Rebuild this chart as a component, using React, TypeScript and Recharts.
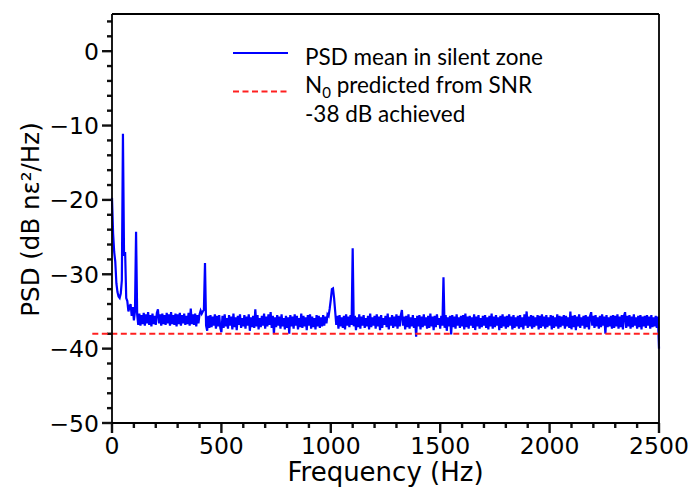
import { LineChart, Line, XAxis, YAxis, ReferenceLine } from "recharts"

const W = 689
const H = 487

// PSD mean in silent zone, one value every FREQ_STEP Hz from 0 to 2500 Hz (dB nε²/Hz)
const FREQ_STEP = 5
const PSD_MEAN = [
  -19.7, -24.5, -27.0, -28.3, -31.2, -32.4, -33.0, -33.2, -32.6, -30.8,
  -11.1, -27.5, -27.0, -33.2, -33.6, -35.0, -34.4, -34.0, -35.6, -34.4,
  -36.2, -35.0, -24.3, -35.4, -36.8, -35.3, -36.9, -35.5, -36.7, -35.2,
  -36.9, -35.4, -36.6, -35.1, -36.8, -35.5, -37.0, -35.3, -36.7, -35.6,
  -36.8, -35.2, -34.7, -36.6, -35.4, -36.9, -35.3, -36.7, -35.5, -36.8,
  -35.2, -36.6, -35.4, -36.9, -35.1, -36.7, -35.5, -36.8, -35.3, -37.0,
  -35.4, -36.7, -35.2, -36.9, -35.5, -36.6, -35.3, -36.8, -35.6, -36.7,
  -35.2, -36.9, -34.6, -36.7, -35.4, -36.8, -35.3, -37.0, -35.5, -36.6,
  -35.4, -34.9, -35.3, -35.0, -34.8, -28.5, -36.9, -37.6, -35.6, -37.2,
  -35.5, -37.1, -35.7, -36.9, -35.4, -37.3, -35.6, -37.0, -35.5, -37.2,
  -37.8, -35.6, -37.2, -35.4, -37.0, -35.9, -37.3, -35.5, -36.9, -35.7,
  -37.4, -35.3, -37.1, -35.8, -37.5, -35.6, -36.8, -35.4, -37.2, -35.9,
  -37.0, -35.5, -37.3, -35.7, -36.9, -35.4, -37.6, -35.8, -37.1, -35.6,
  -37.2, -34.7, -37.0, -35.5, -37.4, -35.9, -37.1, -35.6, -36.9, -35.3,
  -37.3, -35.7, -37.0, -35.4, -36.8, -35.1, -37.2, -35.6, -38.0, -35.8,
  -37.1, -35.5, -36.9, -35.7, -37.3, -35.4, -37.0, -35.9, -37.4, -35.6,
  -37.2, -35.8, -38.0, -35.5, -37.0, -35.7, -37.3, -35.4, -36.9, -35.6,
  -37.4, -35.9, -37.1, -35.3, -37.2, -35.6, -37.0, -35.8, -37.5, -35.5,
  -36.9, -35.4, -37.3, -35.7, -37.1, -35.9, -37.4, -35.5, -37.0, -35.6,
  -37.2, -35.8, -37.0, -35.5, -36.9, -35.7, -36.6, -35.4, -35.6, -34.6,
  -33.4, -32.0, -31.9, -33.2, -35.0, -36.8, -35.6, -37.3, -35.5, -37.0,
  -35.8, -37.2, -35.6, -37.4, -35.4, -36.9, -35.7, -37.1, -35.5, -36.8,
  -26.5, -37.0, -35.6, -37.5, -35.8, -37.1, -35.4, -37.3, -35.7, -36.9,
  -35.5, -37.2, -35.9, -37.0, -35.6, -37.4, -35.3, -37.1, -35.8, -36.9,
  -35.6, -37.3, -35.4, -37.0, -35.7, -37.5, -35.5, -37.2, -35.9, -36.8,
  -35.6, -37.1, -35.3, -37.4, -35.8, -36.9, -35.5, -37.2, -35.7, -37.0,
  -35.4, -37.3, -35.6, -37.0, -35.5, -34.8, -36.9, -35.7, -37.4, -35.6,
  -37.1, -35.4, -37.3, -35.8, -37.0, -35.5, -37.2, -35.9, -38.4, -35.6,
  -37.0, -35.5, -37.4, -35.7, -37.1, -35.4, -36.9, -35.8, -37.3, -35.6,
  -37.2, -35.3, -37.0, -35.7, -37.5, -35.6, -37.1, -35.4, -36.8, -35.9,
  -37.3, -35.6, -36.9, -30.4, -37.2, -35.5, -37.6, -35.8, -37.0, -35.6,
  -38.1, -35.5, -37.1, -35.7, -37.3, -35.4, -36.9, -35.8, -37.2, -35.6,
  -37.0, -35.5, -37.4, -35.3, -37.1, -35.7, -37.3, -35.6, -36.9, -35.8,
  -37.2, -35.4, -37.5, -35.7, -37.0, -35.5, -37.3, -35.9, -37.1, -35.6,
  -36.9, -35.5, -37.2, -35.8, -37.4, -35.6, -37.0, -35.3, -37.3, -35.7,
  -37.1, -35.5, -36.9, -35.8, -37.5, -35.6, -37.2, -35.4, -37.0, -35.7,
  -37.3, -35.6, -37.1, -35.4, -36.9, -35.7, -37.4, -35.5, -37.2, -35.8,
  -37.0, -35.6, -37.3, -35.5, -37.1, -35.8, -37.4, -35.4, -36.9, -35.0,
  -37.2, -35.7, -37.0, -35.5, -37.3, -35.6, -37.1, -35.8, -36.9, -35.5,
  -37.4, -35.6, -37.2, -35.4, -37.0, -35.7, -37.3, -35.5, -37.1, -35.8,
  -36.9, -35.5, -37.4, -35.6, -37.2, -35.8, -37.0, -35.4, -37.3, -35.6,
  -37.1, -35.7, -36.9, -35.5, -37.3, -35.6, -37.0, -35.8, -37.2, -35.0,
  -37.4, -35.6, -37.1, -35.5, -37.5, -35.7, -37.0, -35.4, -37.2, -35.8,
  -36.9, -35.6, -37.3, -35.5, -37.1, -35.7, -37.4, -35.6, -35.1, -36.9,
  -35.6, -37.2, -35.5, -37.0, -35.8, -37.3, -35.6, -37.1, -35.4, -36.9,
  -35.7, -38.0, -35.5, -37.1, -35.8, -37.0, -35.6, -37.3, -35.5, -37.2,
  -35.6, -37.0, -35.4, -37.3, -35.7, -37.1, -35.5, -37.4, -35.6, -35.1,
  -37.2, -35.6, -37.0, -35.5, -37.3, -35.7, -37.1, -35.4, -36.9, -35.8,
  -37.3, -35.6, -37.1, -35.5, -37.4, -35.7, -37.0, -35.6, -37.2, -35.5,
  -36.9, -35.7, -37.3, -35.5, -37.1, -35.8, -37.0, -35.6, -37.2, -35.7,
  -40.0,
]

const X_DOMAIN = [0, 2500]
const Y_DOMAIN = [-50, 5]
const X_MAJOR_TICKS = [0, 500, 1000, 1500, 2000, 2500]
const X_MINOR_TICKS = [
  100, 200, 300, 400, 600, 700, 800, 900, 1100, 1200, 1300, 1400,
  1600, 1700, 1800, 1900, 2100, 2200, 2300, 2400,
]
const Y_MAJOR_TICKS = [-50, -40, -30, -20, -10, 0]
const Y_MINOR_TICKS = [
  -48, -46, -44, -42, -38, -36, -34, -32, -28, -26, -24, -22,
  -18, -16, -14, -12, -8, -6, -4, -2, 2, 4,
]

const N0_DB = -38
const N0_START_HZ = -90 // dashed line starts a bit left of the axis

const data = PSD_MEAN.map((psd, i) => ({ freq: i * FREQ_STEP, psd }))

// plot box in pixels (chart margins + axis sizes below)
const PLOT_LEFT = 112
const PLOT_TOP = 14
const PLOT_W = 547
const PLOT_H = 409
const HZ_PER_PX = (X_DOMAIN[1] - X_DOMAIN[0]) / PLOT_W
const DB_PER_PX = (Y_DOMAIN[1] - Y_DOMAIN[0]) / PLOT_H

const AXIS_FONT = "'DejaVu Sans', sans-serif"
const LEGEND_FONT = "Lato, 'Open Sans', sans-serif"
const TICK_FONT = 23.5
const MAJOR_TICK = 10
const MINOR_TICK = 5

const frameLine = { stroke: "#000", strokeWidth: 1.8 }

function XTickLabel({ x, y, payload }: any) {
  return (
    <text x={x} y={y + 31} textAnchor="middle" fontSize={TICK_FONT} fontFamily={AXIS_FONT} fill="#000">
      {payload.value}
    </text>
  )
}

function YTickLabel({ x, y, payload }: any) {
  return (
    <text x={x - 13} y={y + 8.5} textAnchor="end" fontSize={TICK_FONT} fontFamily={AXIS_FONT} fill="#000">
      {String(payload.value).replace("-", "\u2212")}
    </text>
  )
}

// tick marks drawn as short segments hanging off the bottom and left frame
function xTickMark(v: number, len: number) {
  const y0 = Y_DOMAIN[0]
  return (
    <ReferenceLine
      key={`xt${v}`}
      segment={[{ x: v, y: y0 }, { x: v, y: y0 - len * DB_PER_PX }]}
      ifOverflow="visible"
      stroke="#111"
      strokeWidth={2.4}
    />
  )
}

function yTickMark(v: number, len: number) {
  const x0 = X_DOMAIN[0]
  return (
    <ReferenceLine
      key={`yt${v}`}
      segment={[{ x: x0, y: v }, { x: x0 - len * HZ_PER_PX, y: v }]}
      ifOverflow="visible"
      stroke="#111"
      strokeWidth={2.4}
    />
  )
}

function Legend() {
  return (
    <svg width={W} height={H} style={{ position: "absolute", left: 0, top: 0, pointerEvents: "none" }}>
      <line x1={233} x2={288} y1={53} y2={53} stroke="#0000ff" strokeWidth={2} />
      <line x1={233} x2={288} y1={91.5} y2={91.5} stroke="#ff2020" strokeWidth={2} strokeDasharray="6 3.5" />
      <g fontFamily={LEGEND_FONT} fontSize={22.5} fill="#000">
        <text x={305} y={65}>PSD mean in silent zone</text>
        <text x={305} y={93}>
          N<tspan fontSize={15} dy={5}>0</tspan>
          <tspan dy={-5}> predicted from SNR</tspan>
        </text>
        <text x={305} y={122}>-38 dB achieved</text>
      </g>
    </svg>
  )
}

export default function App() {
  return (
    <div style={{ position: "absolute", left: 0, top: 0, width: W, height: H, background: "#fff" }}>
      <LineChart
        width={W}
        height={H}
        data={data}
        margin={{ top: PLOT_TOP - 1, right: W - PLOT_LEFT - PLOT_W - 1, left: 0, bottom: 0 }}
      >
        <XAxis
          dataKey="freq"
          type="number"
          domain={X_DOMAIN}
          ticks={X_MAJOR_TICKS}
          interval={0}
          height={H - PLOT_TOP - PLOT_H}
          tick={<XTickLabel />}
          tickLine={false}
          tickSize={0}
          tickMargin={0}
          axisLine={frameLine}
          label={(p: any) => {
            const vb = p.viewBox
            return (
              <text x={vb.x + vb.width / 2} y={vb.y + 58} textAnchor="middle" fontSize={26} fontFamily={AXIS_FONT} fill="#000">
                Frequency (Hz)
              </text>
            )
          }}
        />
        <XAxis xAxisId="top" orientation="top" dataKey="freq" type="number" domain={X_DOMAIN} height={1} tick={false} tickLine={false} axisLine={frameLine} />
        <YAxis
          type="number"
          domain={Y_DOMAIN}
          ticks={Y_MAJOR_TICKS}
          interval={0}
          width={PLOT_LEFT}
          tick={<YTickLabel />}
          tickLine={false}
          tickSize={0}
          tickMargin={0}
          axisLine={frameLine}
          allowDataOverflow
          label={(p: any) => {
            const vb = p.viewBox
            const cx = 30
            const cy = vb.y + vb.height / 2 + 1
            return (
              <text x={cx} y={cy} transform={`rotate(-90 ${cx} ${cy})`} textAnchor="middle" dominantBaseline="central" fontSize={24.5} fontFamily={AXIS_FONT} fill="#000">
                PSD (dB nε²/Hz)
              </text>
            )
          }}
        />
        <YAxis yAxisId="right" orientation="right" type="number" domain={Y_DOMAIN} width={1} tick={false} tickLine={false} axisLine={frameLine} />
        {X_MAJOR_TICKS.map((v) => xTickMark(v, MAJOR_TICK))}
        {X_MINOR_TICKS.map((v) => xTickMark(v, MINOR_TICK))}
        {Y_MAJOR_TICKS.map((v) => yTickMark(v, MAJOR_TICK))}
        {Y_MINOR_TICKS.map((v) => yTickMark(v, MINOR_TICK))}
        <Line dataKey="psd" type="linear" stroke="#0000ff" strokeWidth={2.2} dot={false} isAnimationActive={false} />
        <ReferenceLine
          segment={[{ x: N0_START_HZ, y: N0_DB }, { x: X_DOMAIN[1], y: N0_DB }]}
          ifOverflow="visible"
          stroke="#ff2020"
          strokeWidth={2}
          strokeDasharray="6 3.5"
        />
      </LineChart>
      <Legend />
    </div>
  )
}
